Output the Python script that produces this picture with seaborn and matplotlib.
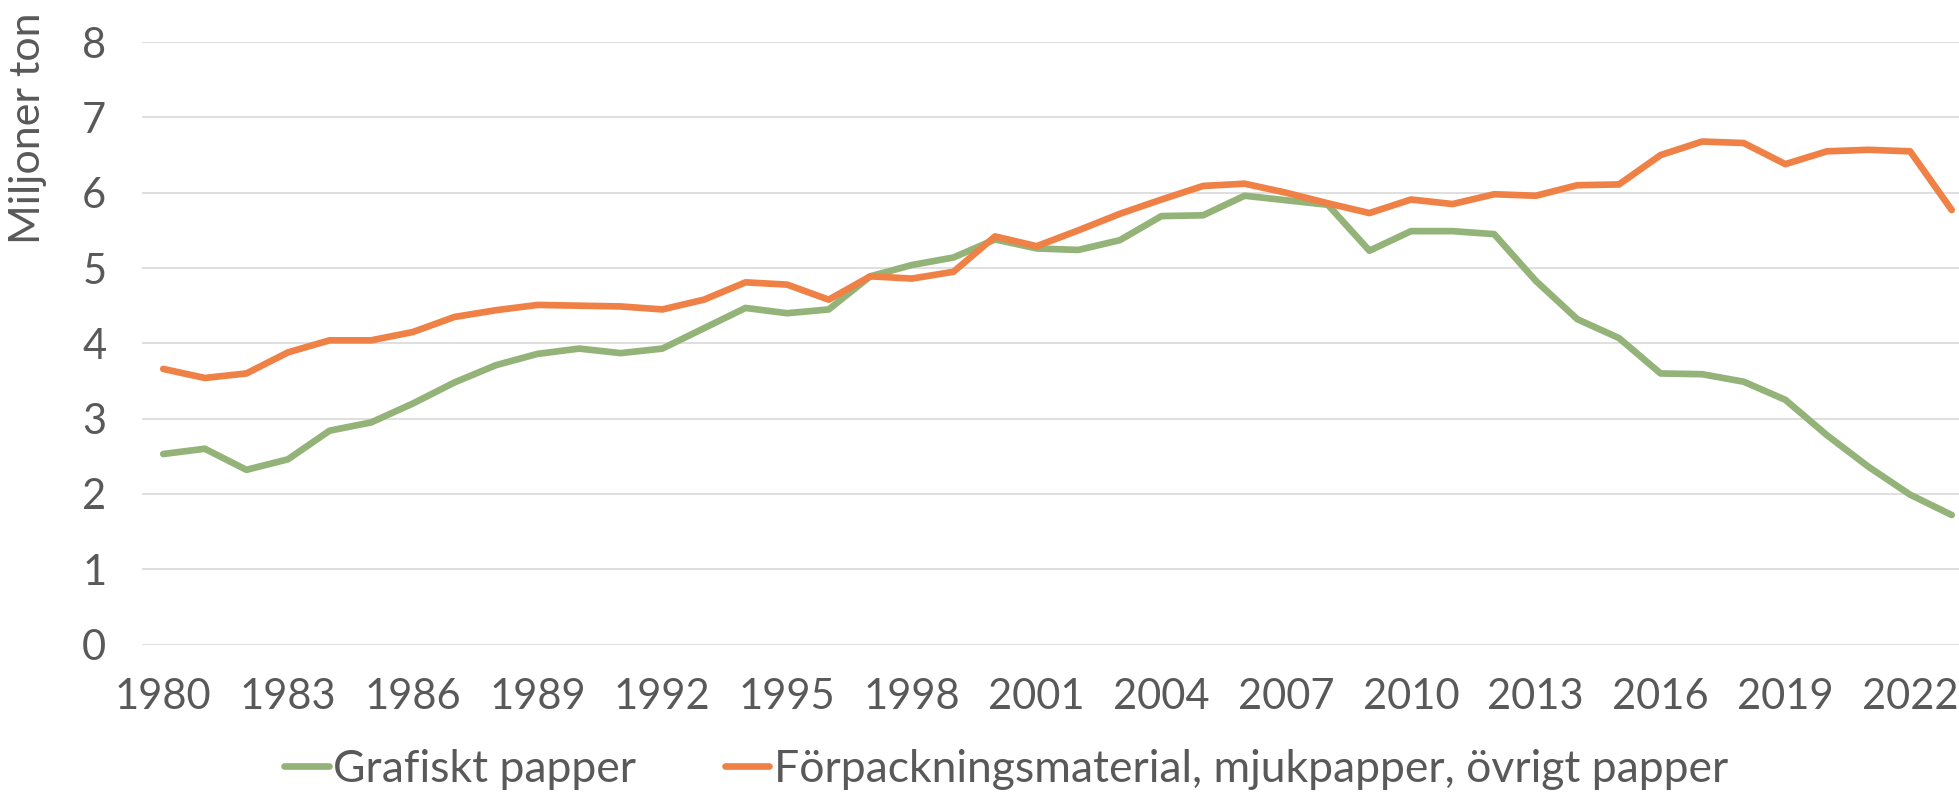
import numpy as np
import pandas as pd
import matplotlib
matplotlib.use("Agg")
import matplotlib.pyplot as plt
import seaborn as sns

years = list(range(1980, 2024))

# Grafiskt papper (miljoner ton)
grafiskt = [2.53, 2.60, 2.32, 2.46, 2.84, 2.95, 3.20, 3.48, 3.71, 3.86,
            3.93, 3.87, 3.93, 4.20, 4.47, 4.40, 4.45, 4.89, 5.04, 5.14,
            5.38, 5.26, 5.24, 5.37, 5.69, 5.70, 5.96, 5.90, 5.84, 5.23,
            5.49, 5.49, 5.45, 4.83, 4.32, 4.07, 3.60, 3.59, 3.49, 3.25,
            2.78, 2.36, 1.99, 1.72]

# Förpackningsmaterial, mjukpapper, övrigt papper (miljoner ton)
forpackning = [3.66, 3.54, 3.60, 3.88, 4.04, 4.04, 4.15, 4.35, 4.44, 4.51,
               4.50, 4.49, 4.45, 4.58, 4.81, 4.78, 4.58, 4.89, 4.86, 4.95,
               5.42, 5.29, 5.50, 5.72, 5.91, 6.09, 6.12, 6.00, 5.86, 5.73,
               5.91, 5.85, 5.98, 5.96, 6.10, 6.11, 6.50, 6.68, 6.66, 6.38,
               6.55, 6.57, 6.55, 5.77]

series_names = ["Grafiskt papper",
                "Förpackningsmaterial, mjukpapper, övrigt papper"]
colors = ["#93B378", "#EF8146"]
y_ticks = list(range(0, 9))
x_ticks = list(range(1980, 2023, 3))

df = pd.DataFrame({
    "År": years * 2,
    "Miljoner ton": grafiskt + forpackning,
    "Serie": [series_names[0]] * len(years) + [series_names[1]] * len(years),
})

sns.set_style("white")
plt.rcParams["font.family"] = ["Lato", "DejaVu Sans"]
text_col = "#595959"

fig = plt.figure(figsize=(19.59, 7.92), dpi=100)
ax = fig.add_axes([0.0727, 0.1862, 0.9342, 0.7606])

sns.lineplot(data=df, x="År", y="Miljoner ton", hue="Serie",
             palette=dict(zip(series_names, colors)), linewidth=4.8,
             ax=ax, legend=False)
for line in ax.lines:
    line.set_solid_capstyle("round")
    line.set_solid_joinstyle("round")

ax.set_xlim(1979.5, 2023.5)
ax.set_ylim(0, 8)
ax.set_yticks(y_ticks)
ax.set_xticks(x_ticks)
ax.yaxis.grid(True, color="#D9D9D9", linewidth=1.2)
ax.xaxis.grid(False)
ax.set_axisbelow(True)
for s in ax.spines.values():
    s.set_visible(False)
ax.tick_params(axis="both", length=0, labelsize=30, labelcolor=text_col)
ax.tick_params(axis="y", pad=26)
ax.tick_params(axis="x", pad=24)

ax.set_xlabel("")
ax.set_ylabel("Miljoner ton", fontsize=31, color=text_col, loc="top")
ax.yaxis.set_label_coords(-0.052, 1.05)

handles = [plt.Line2D([], [], color=c, linewidth=4.8, solid_capstyle="round")
           for c in colors]
leg = ax.legend(handles, series_names, loc="center", ncol=2,
                bbox_to_anchor=(0.472, -0.207), frameon=False, fontsize=32,
                handlelength=1.0, handletextpad=0.1, columnspacing=2.0,
                borderaxespad=0)
for t in leg.get_texts():
    t.set_color(text_col)

plt.savefig("out.png", dpi=100)
